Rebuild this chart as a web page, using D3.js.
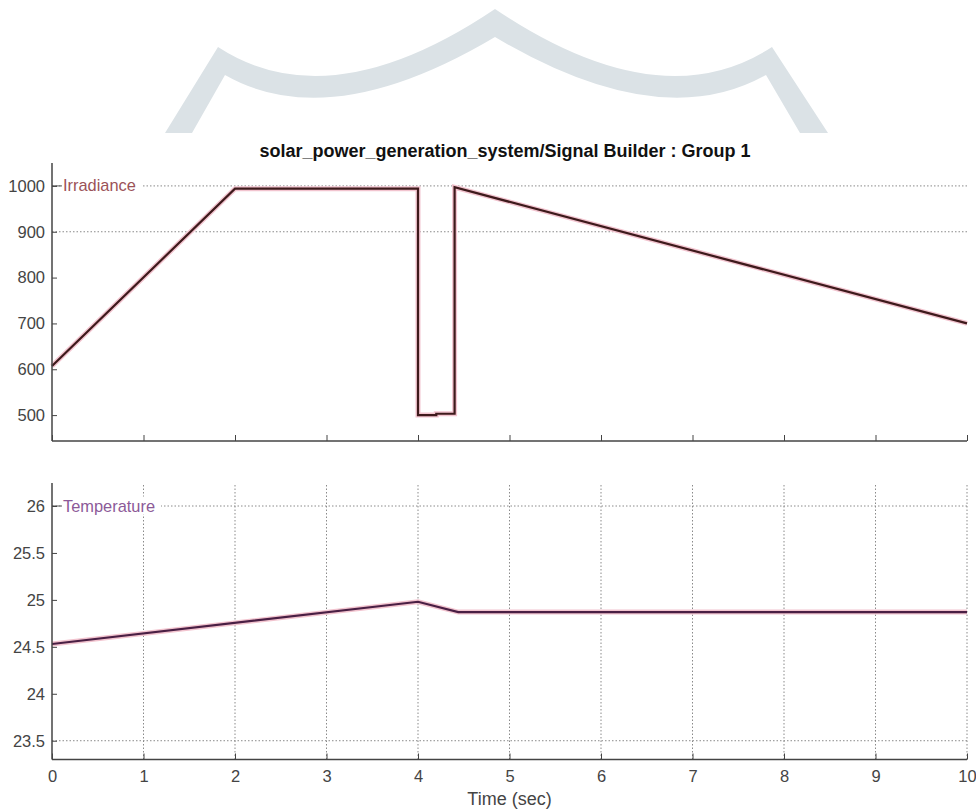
<!DOCTYPE html>
<html><head><meta charset="utf-8">
<script src="https://cdn.jsdelivr.net/npm/d3@7"></script>
<style>html,body{margin:0;padding:0;background:#fff;}svg{display:block;}</style>
</head><body>
<script>
// ---- data ----
const chartTitle = "solar_power_generation_system/Signal Builder : Group 1";
const xLabel = "Time (sec)";
const irrName = "Irradiance";
const tempName = "Temperature";
const irrTime = [0, 2, 4, 4, 4.2, 4.2, 4.4, 4.4, 10];
const irrValues = [607, 994, 994, 500, 500, 503, 503, 997, 700];
const tempTime = [0, 4, 4.44, 10];
const tempValues = [24.53, 24.98, 24.87, 24.87];
const xTicks = [0,1,2,3,4,5,6,7,8,9,10];
const irrTicks = [500,600,700,800,900,1000];
const tempTicks = [23.5,24,24.5,25,25.5,26];
const irrGrid = [1000, 900];
const tempGrid = [26, 23.5];
const tempVGrid = [1,2,3,4,5,6,7,8,9,10];

const W = 976, H = 812;
const svg = d3.select("body").append("svg").attr("width", W).attr("height", H);
const font = "'Liberation Sans', Arial, sans-serif";

// watermark decoration
svg.append("path")
  .attr("d", "M165,133 L218,47 Q330,120 495,9 Q660,120 772,47 L828,133 L800,133 L766,75 Q660,135 495,37 Q330,135 225,75 L192,133 Z")
  .attr("fill", "#dbe2e6");

const x = d3.scaleLinear().domain([0, 10]).range([52, 967]);
const yI = d3.scaleLinear().domain([443.5, 1050]).range([441, 163]);
const yT = d3.scaleLinear().domain([23.30, 26.245]).range([759.5, 483]);

// title
svg.append("text").attr("x", 505).attr("y", 157).attr("text-anchor", "middle")
  .attr("font-family", font).attr("font-weight", "bold").attr("font-size", 18)
  .attr("fill", "#111").text(chartTitle);

function panel(y, yTicks, hGrid, vGrid, times, vals, name, lineColor, labelColor, showXLabels) {
  const g = svg.append("g");
  const [y0, y1] = y.range();
  g.selectAll(".hg").data(hGrid).join("line")
    .attr("x1", x(0)).attr("x2", x(10)).attr("y1", d => y(d)).attr("y2", d => y(d))
    .attr("stroke", "#8a8a8a").attr("stroke-width", 1).attr("stroke-dasharray", "1.5,2");
  g.selectAll(".vg").data(vGrid).join("line")
    .attr("x1", d => x(d)).attr("x2", d => x(d)).attr("y1", y0).attr("y2", y1)
    .attr("stroke", "#8a8a8a").attr("stroke-width", 1).attr("stroke-dasharray", "1.5,2");
  const lbl = g.append("text").attr("x", 63).attr("y", y(hGrid[0]) + 5.5)
    .attr("font-family", font).attr("font-size", 16.4).attr("fill", labelColor).text(name);
  const bb = lbl.node().getBBox();
  g.insert("rect", "text").attr("x", bb.x - 2).attr("y", bb.y).attr("width", bb.width + 8).attr("height", bb.height).attr("fill", "#fff");
  g.append("line").attr("x1", x(0)).attr("x2", 62).attr("y1", y(hGrid[0])).attr("y2", y(hGrid[0]))
    .attr("stroke", "#555").attr("stroke-width", 1);
  const line = d3.line().x((d, i) => x(times[i])).y(d => y(d));
  g.append("path").datum(vals).attr("d", line).attr("fill", "none")
    .attr("stroke", "#f2c4cf").attr("stroke-width", 5).attr("stroke-linejoin", "miter");
  g.append("path").datum(vals).attr("d", line).attr("fill", "none")
    .attr("stroke", lineColor).attr("stroke-width", 2.2).attr("stroke-linejoin", "miter");
  const ya = g.append("g").attr("transform", `translate(${x(0)},0)`)
    .call(d3.axisRight(y).tickValues(yTicks).tickSize(5).tickFormat(d3.format("")));
  ya.select(".domain").attr("d", `M0,${y1}V${y0}`).attr("stroke", "#444").attr("stroke-width", 1.5);
  ya.selectAll(".tick line").attr("stroke", "#444");
  ya.selectAll(".tick text").attr("x", -7).attr("text-anchor", "end")
    .attr("font-family", font).attr("font-size", 16.5).attr("fill", "#444");
  const xa = g.append("g").attr("transform", `translate(0,${y0})`)
    .call(d3.axisTop(x).tickValues(xTicks).tickSize(6).tickFormat(d3.format("d")));
  xa.select(".domain").attr("d", `M${x(0)},0H${x(10)}`).attr("stroke", "#444").attr("stroke-width", 1.5);
  xa.selectAll(".tick line").attr("stroke", "#444");
  if (showXLabels) {
    xa.selectAll(".tick text").attr("y", 22.5).attr("dy", 0)
      .attr("font-family", font).attr("font-size", 16.5).attr("fill", "#444");
  } else {
    xa.selectAll(".tick text").remove();
  }
}

panel(yI, irrTicks, irrGrid, [], irrTime, irrValues, irrName, "#3e1a1c", "#9b5257", false);
panel(yT, tempTicks, tempGrid, tempVGrid, tempTime, tempValues, tempName, "#4a1f44", "#8c5a98", true);

svg.append("text").attr("x", x(5)).attr("y", 805).attr("text-anchor", "middle")
  .attr("font-family", font).attr("font-size", 18).attr("fill", "#444").text(xLabel);
</script>
</body></html>
